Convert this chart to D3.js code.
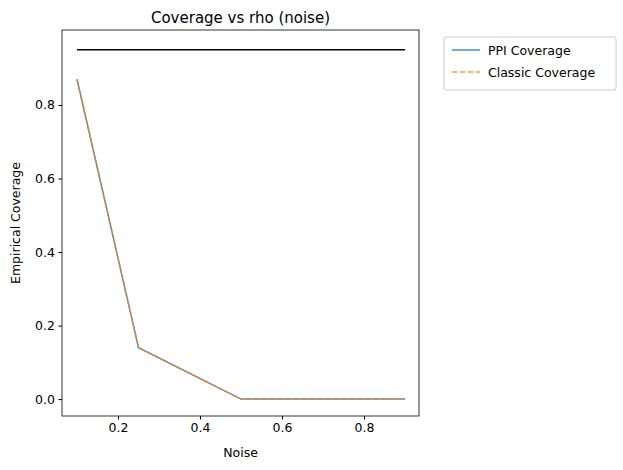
<!DOCTYPE html><html><head><script src="https://cdn.jsdelivr.net/npm/d3@7"></script>
<style>body{margin:0;background:#fff}text{font-family:"DejaVu Sans",sans-serif}</style></head><body>
<script>
const noise=[0.1,0.25,0.5,0.75,0.9];
const ppi=[0.87,0.14,0,0,0];
const classic=[0.87,0.14,0,0,0];
const target=0.95;
const xTicks=[0.2,0.4,0.6,0.8], yTicks=[0,0.2,0.4,0.6,0.8];
const W=623,H=470,L=62,R=419,T=30,B=416;
const svg=d3.select("body").append("svg").attr("width",W).attr("height",H);
const x=d3.scaleLinear().domain([0.0634,0.934]).range([L,R]);
const y=d3.scaleLinear().domain([-0.046,1.004]).range([B,T]);
const fmt=d3.format(".1f");
svg.append("g").attr("transform",`translate(0,${B})`).call(d3.axisBottom(x).tickValues(xTicks).tickFormat(fmt).tickSize(3.5).tickPadding(3.5)).call(g=>g.select(".domain").remove());
svg.append("g").attr("transform",`translate(${L},0)`).call(d3.axisLeft(y).tickValues(yTicks).tickFormat(fmt).tickSize(3.5).tickPadding(3.5)).call(g=>g.select(".domain").remove());
svg.selectAll(".tick text").attr("font-size",12.5).attr("fill","#000");
svg.selectAll(".tick line").attr("stroke","#000");
const line=d3.line().x((d,i)=>x(noise[i])).y(d=>y(d));
svg.append("path").attr("d",d3.line()([[x(noise[0]),y(target)],[x(noise[noise.length-1]),y(target)]])).attr("stroke","#000").attr("stroke-width",1.5).attr("fill","none");
svg.append("path").datum(ppi).attr("d",line).attr("stroke","#1f77b4").attr("stroke-opacity",0.8).attr("stroke-width",1.5).attr("fill","none");
svg.append("path").datum(classic).attr("d",line).attr("stroke","#ff7f0e").attr("stroke-opacity",0.8).attr("stroke-width",1.5).attr("stroke-dasharray","5.5,2.4").attr("fill","none");
svg.append("rect").attr("x",L).attr("y",T).attr("width",R-L).attr("height",B-T).attr("fill","none").attr("stroke","#000").attr("stroke-width",0.8);
svg.append("text").attr("x",(L+R)/2).attr("y",23).attr("text-anchor","middle").attr("font-size",15).text("Coverage vs rho (noise)");
svg.append("text").attr("x",(L+R)/2).attr("y",457).attr("text-anchor","middle").attr("font-size",12.5).text("Noise");
svg.append("text").attr("transform",`translate(20,${(T+B)/2}) rotate(-90)`).attr("text-anchor","middle").attr("font-size",12.5).text("Empirical Coverage");
const lg=svg.append("g");
lg.append("rect").attr("x",444).attr("y",37).attr("width",172).attr("height",53).attr("rx",2).attr("fill","#fff").attr("stroke","#ccc");
[["PPI Coverage","#1f77b4",null],["Classic Coverage","#ff7f0e","5.5,2.4"]].forEach((d,i)=>{
 const yy=50+i*22;
 lg.append("line").attr("x1",452).attr("x2",480).attr("y1",yy).attr("y2",yy).attr("stroke",d[1]).attr("stroke-opacity",0.8).attr("stroke-width",1.5).attr("stroke-dasharray",d[2]);
 lg.append("text").attr("x",488).attr("y",yy+4.5).attr("font-size",12.5).text(d[0]);
});
</script></body></html>
